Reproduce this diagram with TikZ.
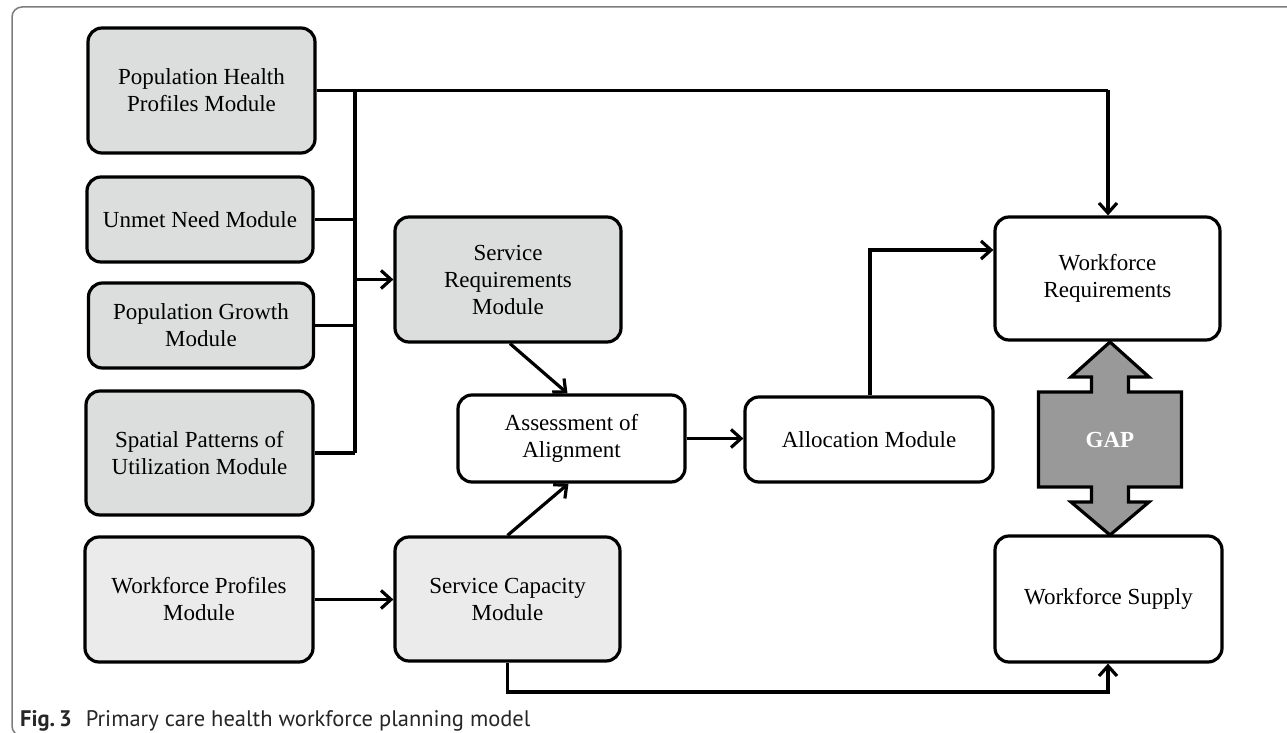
\documentclass[tikz,border=0pt]{standalone}
\usepackage{fontspec}
\setmainfont{Liberation Serif}
\newfontfamily\capfont{PT Sans}
\usetikzlibrary{arrows.meta,calc}
\definecolor{modgray}{RGB}{220,221,221}
\definecolor{lightgray}{RGB}{235,235,235}
\definecolor{gapgray}{RGB}{153,153,153}
\definecolor{framegray}{RGB}{125,125,125}
\tikzset{
  box/.style={draw=black, line width=3.2pt, rounded corners=14pt, align=center,
    inner sep=0pt, font=\fontsize{23}{27}\selectfont, text=black},
  graybox/.style={box, fill=modgray},
  lightbox/.style={box, fill=lightgray},
  whitebox/.style={box, fill=white},
  conn/.style={line width=3.2pt, line join=miter},
  arr/.style={conn, -{Straight Barb[length=10pt,width=18pt,line width=3.2pt]}},
}
\begin{document}
\begin{tikzpicture}[x=1pt,y=-1pt]
\useasboundingbox (0,0) rectangle (1287,733);
\clip (0,0) rectangle (1287,733);
\fill[white] (0,0) rectangle (1287,733);
\draw[framegray, line width=1.5pt, rounded corners=10pt] (1300,7) -- (12,7) -- (12,736) -- (1300,736);

% left modules
\node[graybox, minimum width=227pt, minimum height=125pt] (php) at (201.5,90.5) {Population Health\\Profiles Module};
\node[graybox, minimum width=226pt, minimum height=85pt] (unmet) at (200,219.5) {Unmet Need Module};
\node[graybox, minimum width=225pt, minimum height=85pt] (growth) at (201,325.5) {Population Growth\\Module};
\node[graybox, minimum width=227pt, minimum height=124pt] (spatial) at (199.5,453) {Spatial Patterns of\\Utilization Module};
\node[lightbox, minimum width=228pt, minimum height=125pt] (wfprof) at (199,599.5) {Workforce Profiles\\Module};

% middle
\node[graybox, minimum width=226pt, minimum height=125pt] (servreq) at (508,279.5) {Service\\Requirements\\Module};
\node[lightbox, minimum width=225pt, minimum height=124pt] (servcap) at (507.5,599) {Service Capacity\\Module};
\node[whitebox, minimum width=227pt, minimum height=87pt] (assess) at (571.5,438.5) {Assessment of\\Alignment};
\node[whitebox, minimum width=248pt, minimum height=85pt] (alloc) at (869,439.5) {Allocation Module};

% right
\node[whitebox, minimum width=225pt, minimum height=123pt] (wfreq) at (1107.5,278.5) {Workforce\\Requirements};
\node[whitebox, minimum width=227pt, minimum height=126pt] (wfsup) at (1108.5,599) {Workforce Supply};

% GAP double arrow
\draw[line width=3.2pt, fill=gapgray, line join=miter]
  (1110,342) -- (1149,377) -- (1128.5,377) -- (1128.5,392) -- (1181.5,392) -- (1181.5,487)
  -- (1128.5,487) -- (1128.5,502) -- (1149,502) -- (1110,535) -- (1071,502) -- (1091.5,502)
  -- (1091.5,487) -- (1038.5,487) -- (1038.5,392) -- (1091.5,392) -- (1091.5,377) -- (1071,377) -- cycle;
\node[text=white, font=\fontsize{23}{27}\selectfont\bfseries] (gap) at (1110,440) {GAP};

% bus connectors
\coordinate (bustop) at (355,90.5);
\coordinate (busbot) at (355,453);
\coordinate (corner1) at (1108,90.5);
\draw[conn] (php.east) -- (corner1);
\draw[arr] (corner1) -- (wfreq.north -| corner1);
\draw[conn] (bustop) -- (busbot);
\draw[conn] (unmet.east) -- (unmet.east -| bustop);
\draw[conn] (growth.east) -- (growth.east -| bustop);
\draw[conn] (spatial.east) -- (busbot);
\coordinate (busmid) at (355,279.5);
\draw[arr] (busmid) -- (servreq.west);

% workforce profiles to capacity
\draw[arr] (wfprof.east) -- (servcap.west |- wfprof.east);

% diagonals
\draw[arr] ($(servreq.south)+(2,0)$) -- ($(assess.north)+(-4,0)$);
\draw[arr] (servcap.north) -- ($(assess.south)+(-3,0)$);
\draw[arr] (assess.east) -- (alloc.west |- assess.east);

% allocation to requirements
\coordinate (allocup) at (870,250);
\draw[arr] (alloc.north -| allocup) -- (allocup) -- (wfreq.west |- allocup);

% capacity to supply
\coordinate (capdown) at (507.5,692);
\coordinate (supdown) at (1108,692);
\draw[arr] (servcap.south) -- (capdown) -- (supdown) -- (wfsup.south -| supdown);

% caption
\node[anchor=base west, inner sep=0pt, font=\capfont\fontsize{22.5}{26}\selectfont, text=black!85] (cap) at (20,726)
  {\textbf{Fig.\,3}\hspace{14pt}Primary care health workforce planning model};
\end{tikzpicture}
\end{document}
